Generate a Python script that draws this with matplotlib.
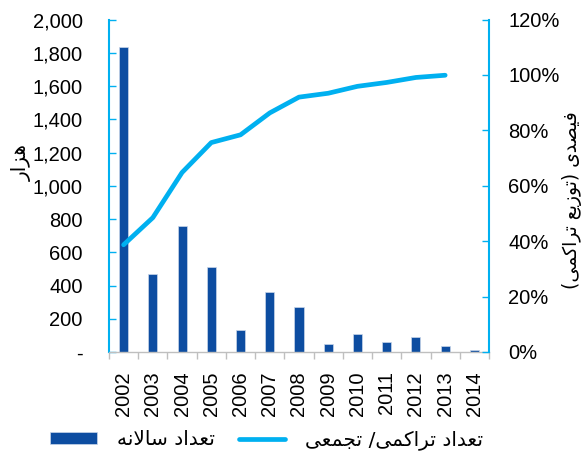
import numpy as np
import matplotlib
matplotlib.use("Agg")
import matplotlib.pyplot as plt
from matplotlib.ticker import FuncFormatter, FixedLocator

years = ["2002", "2003", "2004", "2005", "2006", "2007", "2008",
         "2009", "2010", "2011", "2012", "2013", "2014"]
annual = [1833, 472, 757, 510, 134, 360, 273, 48, 107, 60, 88, 34, 10]
cumulative = [0.387, 0.485, 0.648, 0.756, 0.784, 0.863, 0.920,
              0.934, 0.959, 0.973, 0.991, 0.999]

# tiny arabic/persian shaper (matplotlib has no bidi / joining support)
DUAL = {
    "ت": (0xFE95, 0xFE96, 0xFE97, 0xFE98),
    "ع": (0xFEC9, 0xFECA, 0xFECB, 0xFECC),
    "س": (0xFEB1, 0xFEB2, 0xFEB3, 0xFEB4),
    "ل": (0xFEDD, 0xFEDE, 0xFEDF, 0xFEE0),
    "ن": (0xFEE5, 0xFEE6, 0xFEE7, 0xFEE8),
    "ه": (0xFEE9, 0xFEEA, 0xFEEB, 0xFEEC),
    "ک": (0xFED9, 0xFEDA, 0xFEDB, 0xFEDC),
    "ك": (0xFED9, 0xFEDA, 0xFEDB, 0xFEDC),
    "م": (0xFEE1, 0xFEE2, 0xFEE3, 0xFEE4),
    "ی": (0xFEEF, 0xFEF0, 0xFEF3, 0xFEF4),
    "ي": (0xFEEF, 0xFEF0, 0xFEF3, 0xFEF4),
    "ج": (0xFE9D, 0xFE9E, 0xFE9F, 0xFEA0),
    "ف": (0xFED1, 0xFED2, 0xFED3, 0xFED4),
    "ص": (0xFEB9, 0xFEBA, 0xFEBB, 0xFEBC),
}
RIGHT = {
    "ا": (0xFE8D, 0xFE8E),
    "د": (0xFEA9, 0xFEAA),
    "ر": (0xFEAD, 0xFEAE),
    "ز": (0xFEAF, 0xFEB0),
    "و": (0xFEED, 0xFEEE),
}


def fa(s):
    out = []
    i = 0
    while i < len(s):
        c = s[i]
        a = i > 0 and s[i - 1] in DUAL
        if c == "ل" and i + 1 < len(s) and s[i + 1] == "ا":
            out.append(chr(0xFEFC if a else 0xFEFB))
            i += 2
            continue
        nxt = s[i + 1] if i + 1 < len(s) else ""
        b = nxt in DUAL or nxt in RIGHT
        if c in DUAL:
            f = DUAL[c]
            out.append(chr(f[3] if a and b else f[1] if a else f[2] if b else f[0]))
        elif c in RIGHT:
            f = RIGHT[c]
            out.append(chr(f[1] if a else f[0]))
        else:
            out.append(c)
        i += 1
    return "".join(out)[::-1].translate(str.maketrans("()", ")("))


plt.rcParams["font.family"] = ["Liberation Sans", "DejaVu Sans"]
bar_color = "#0D4DA1"
cyan = "#00B0F0"
grey = "#BFBFBF"
fs = 14.5

fig = plt.figure(figsize=(5.85, 4.55), dpi=100)
ax = fig.add_axes([0.1863, 0.2264, 0.6496, 0.7306])
x = np.arange(len(years))
bars = ax.bar(x, annual, width=0.31, color=bar_color, edgecolor="#C9D6EA",
              linewidth=0.5, label=fa("تعداد سالانه"))
ax.set_xlim(-0.5, len(years) - 0.5)
ax.set_ylim(0, 2000)
ax.set_yticks(np.arange(0, 2001, 200))
ax.yaxis.set_major_formatter(FuncFormatter(lambda v, p: "-" if v == 0 else f"{v:,.0f}"))
ax.tick_params(axis="y", direction="in", length=5, width=1, color=cyan,
               labelsize=fs, pad=19)

ax.set_xticks(x)
ax.set_xticklabels(years, rotation=90)
ax.xaxis.set_minor_locator(FixedLocator(np.arange(-0.5, len(years), 1)))
ax.tick_params(axis="x", which="major", length=0, labelsize=fs, pad=14)
ax.tick_params(axis="x", which="minor", length=5, width=1, color=grey, direction="out")

for s in ["top", "right"]:
    ax.spines[s].set_visible(False)
ax.spines["left"].set_color(cyan)
ax.spines["left"].set_linewidth(1.5)
ax.spines["bottom"].set_color(grey)
ax.spines["bottom"].set_linewidth(1)

ax2 = ax.twinx()
line, = ax2.plot(x[:len(cumulative)], cumulative, color=cyan, linewidth=3.4,
                 solid_capstyle="round", solid_joinstyle="round",
                 label=fa("تعداد تراکمی/ تجمعی"))
ax2.set_ylim(0, 1.2)
ax2.set_yticks(np.arange(0, 1.21, 0.2))
ax2.yaxis.set_major_formatter(FuncFormatter(lambda v, p: f"{v * 100:.0f}%"))
ax2.tick_params(axis="y", direction="in", length=5, width=1, color=cyan,
                labelsize=fs, pad=14)
for s in ["top", "left", "bottom"]:
    ax2.spines[s].set_visible(False)
ax2.spines["right"].set_color(cyan)
ax2.spines["right"].set_linewidth(1.5)

fig.text(0.038, 0.642, fa("هزار"), rotation=90, ha="center", va="center",
         fontsize=fs, family=["DejaVu Sans"])
fig.text(0.978, 0.56, fa("فیصدی (توزیع تراکمی)"), rotation=90, ha="center",
         va="center", fontsize=fs - 1, family=["DejaVu Sans"])

fig.legend([bars, line], [fa("تعداد سالانه"), fa("تعداد تراکمی/ تجمعی")],
           loc="center", bbox_to_anchor=(267 / 585, 0.033), ncol=2,
           frameon=False, fontsize=fs, handlelength=2.3, handleheight=0.5,
           handletextpad=1.0, columnspacing=1.2,
           prop={"family": ["DejaVu Sans"], "size": fs})

fig.savefig("out.png", dpi=100)
